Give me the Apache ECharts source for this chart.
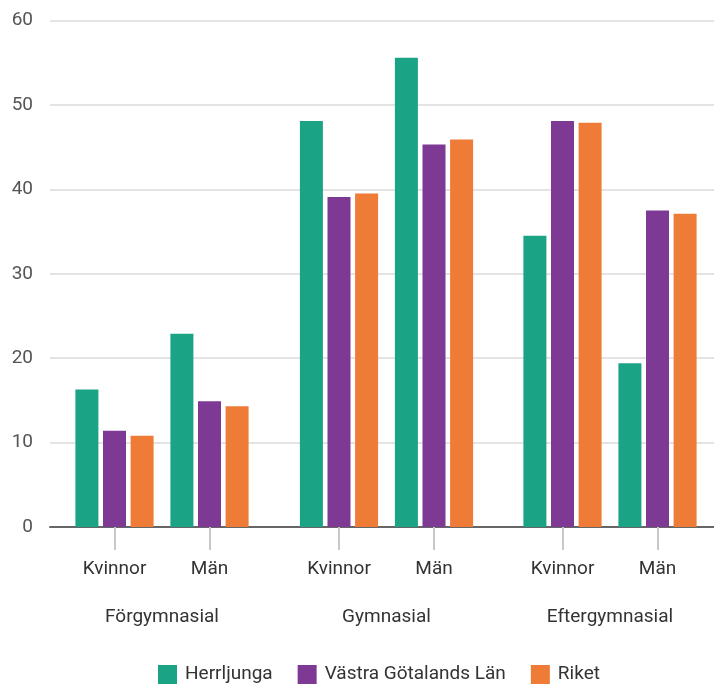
<!DOCTYPE html>
<html>
<head>
<meta charset="utf-8">
<script src="https://cdn.jsdelivr.net/npm/echarts@6/dist/echarts.min.js"></script>
<style>
html,body{margin:0;padding:0;background:#fff;}
#chart{width:714px;height:684px;}
</style>
</head>
<body>
<div id="chart"></div>
<script>
const groups = ['Förgymnasial', 'Gymnasial', 'Eftergymnasial'];
const subCategories = ['Kvinnor', 'Män'];
const seriesNames = ['Herrljunga', 'Västra Götalands Län', 'Riket'];
const herrljunga = [16.3, 22.9, 48.1, 55.6, 34.5, 19.4];
const vastraGotaland = [11.4, 14.9, 39.1, 45.3, 48.1, 37.5];
const riket = [10.8, 14.3, 39.5, 45.9, 47.9, 37.1];
const yTicks = [0, 10, 20, 30, 40, 50, 60];

const colors = ['#1ba385', '#7e3994', '#ee7b36'];
const seriesValues = [herrljunga, vastraGotaland, riket];
const font = 'Roboto';

const gridTop = 20.5, gridBottom = 157;
const groupLefts = [67, 291.5, 515];
const groupWidth = 190;

const grids = [{ left: 50, right: 0, top: gridTop, bottom: gridBottom }];
const xAxes = [{
  gridIndex: 0, type: 'value', min: 0, max: 1,
  axisLine: { show: true, onZero: false, lineStyle: { color: '#666', width: 2 } },
  axisTick: { show: false }, axisLabel: { show: false }, splitLine: { show: false }
}];
const yAxes = [{
  gridIndex: 0, type: 'value', min: yTicks[0], max: yTicks[yTicks.length - 1], interval: 10,
  axisLine: { show: false }, axisTick: { show: false },
  axisLabel: { color: '#555', fontSize: 19, fontFamily: font, margin: 17 },
  splitLine: { lineStyle: { color: '#e4e4e4', width: 2 } }
}];
const series = [];

groups.forEach((g, gi) => {
  const idx = gi + 1;
  grids.push({ left: groupLefts[gi], width: groupWidth, top: gridTop, bottom: gridBottom });
  xAxes.push({
    gridIndex: idx, type: 'category', data: subCategories,
    name: g, nameLocation: 'middle', nameGap: 81,
    nameTextStyle: { color: '#333', fontSize: 19, fontFamily: font },
    axisLine: { show: false },
    axisTick: { show: true, alignWithLabel: true, length: 23, lineStyle: { color: '#c8c8c8', width: 2 } },
    axisLabel: { color: '#333', fontSize: 19, fontFamily: font, margin: 33 }
  });
  yAxes.push({
    gridIndex: idx, type: 'value', min: 0, max: 60, interval: 10, show: false,
    splitLine: { show: false }
  });
  seriesNames.forEach((name, si) => {
    series.push({
      name: name, type: 'bar', xAxisIndex: idx, yAxisIndex: idx,
      data: seriesValues[si].slice(gi * 2, gi * 2 + 2),
      barWidth: 23, barGap: '20%',
      itemStyle: { color: colors[si] }
    });
  });
});

const chart = echarts.init(document.getElementById('chart'));
chart.setOption({
  animation: false,
  backgroundColor: '#fff',
  grid: grids,
  xAxis: xAxes,
  yAxis: yAxes,
  legend: {
    data: seriesNames, left: 153, top: 660,
    itemWidth: 19, itemHeight: 19, itemGap: 25,
    icon: 'rect',
    textStyle: { color: '#333', fontSize: 19, fontFamily: font, padding: [0, 0, 0, 3] }
  },
  series: series
});
</script>
</body>
</html>
